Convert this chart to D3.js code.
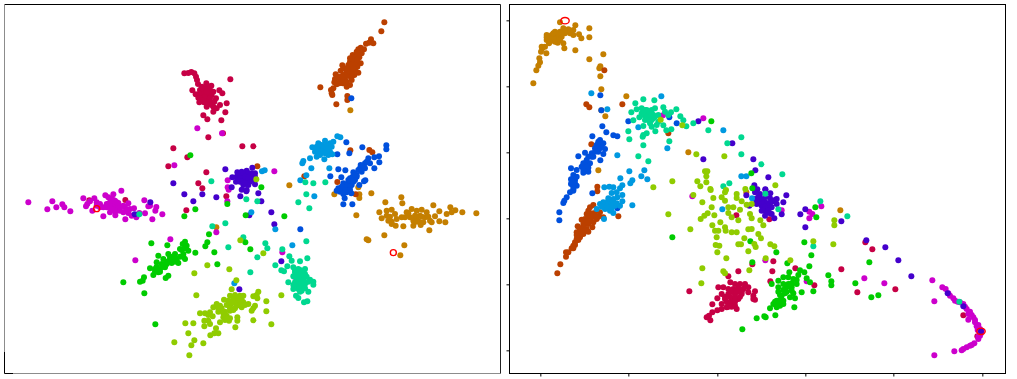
<!DOCTYPE html>
<html>
<head>
<meta charset="utf-8">
<script src="https://cdn.jsdelivr.net/npm/d3@7"></script>
<style>
  html, body { margin: 0; padding: 0; background: #fff; }
  svg { display: block; }
</style>
</head>
<body>
<svg id="canvas"></svg>
<script>
//--values, in 3x crop units of each panel
const leftOrange = [[1051,331],[868,556],[1075,562],[1003,583],[1078,583],[1078,594],[1114,580],[1204,592],[1207,610],[1156,607],[1069,646],[649,682],[1300,616],[1351,622],[1366,631],[1387,637],[1429,640],[1355,637],[1340,642],[1318,634],[1305,649],[1318,664],[1336,667],[1288,691],[1295,667],[1138,637],[1175,629],[1160,632],[1145,655],[1160,647],[1185,642],[1165,662],[1190,657],[1175,672],[1187,677],[1210,679],[1220,637],[1235,627],[1250,632],[1265,629],[1280,637],[1215,652],[1230,652],[1245,647],[1260,647],[1275,652],[1240,662],[1255,664],[1270,667],[1290,662],[1240,677],[1262,675],[1153,706],[1100,718],[1105,721],[1213,736],[1201,766],[1205,652],[1225,640],[1250,650],[1265,650],[1285,650],[1250,665],[1170,650],[1175,665]];
const leftRust = [[1153,67],[1144,94],[1113,118],[1120,130],[1098,131],[1107,128],[1082,143],[1092,148],[1075,148],[1085,160],[1058,165],[1070,168],[1078,172],[1062,178],[1050,185],[1070,185],[1082,190],[1060,195],[1045,195],[1027,196],[1072,200],[1030,205],[1050,205],[1065,210],[1022,212],[1040,215],[1055,218],[1075,218],[1007,223],[1030,225],[1047,228],[1063,225],[1005,237],[1020,240],[1035,238],[1055,240],[1003,247],[1018,250],[1038,252],[1050,255],[1010,253],[1040,260],[961,262],[1000,265],[993,270],[995,280],[997,285],[1042,288],[1042,300],[1009,313],[1051,451],[1108,450],[1117,457],[913,529],[1012,546],[772,499],[1067,583],[1060,180],[1072,180],[1055,195],[1065,195],[1040,205],[1060,205],[1035,225],[1055,228],[1025,230],[1040,245],[1028,250],[1015,230],[1080,160],[1070,155],[1050,175]];
const leftCrimson = [[553,220],[565,219],[574,216],[583,220],[588,230],[591,240],[594,252],[691,238],[619,250],[634,257],[606,260],[620,262],[577,271],[600,270],[614,272],[630,270],[658,271],[667,280],[640,275],[587,283],[605,283],[620,285],[635,285],[595,293],[610,295],[625,297],[648,295],[598,307],[612,307],[630,307],[643,305],[680,310],[660,315],[620,320],[640,320],[650,325],[640,335],[676,337],[610,346],[622,358],[664,361],[625,412],[669,400],[727,439],[760,439],[520,445],[562,472],[505,499],[619,517],[595,550],[607,565],[268,601],[376,600],[559,631],[679,589],[600,280],[612,280],[628,275],[600,295],[615,290],[630,295],[605,265],[620,275],[618,305],[635,315],[625,310],[610,300]];
const leftMagenta = [[592,385],[666,400],[523,496],[823,514],[683,541],[683,562],[364,572],[85,607],[142,628],[157,604],[169,622],[187,613],[193,622],[211,634],[250,595],[283,595],[270,604],[262,612],[258,619],[277,632],[290,607],[300,612],[316,586],[340,583],[325,592],[335,597],[345,602],[355,609],[320,612],[310,622],[330,622],[345,622],[360,622],[375,622],[385,610],[390,627],[402,625],[310,649],[346,646],[376,658],[330,637],[350,632],[370,637],[385,639],[395,647],[409,652],[418,639],[435,640],[433,601],[445,619],[450,617],[466,632],[469,621],[487,643],[457,658],[511,718],[406,781],[649,697],[686,569],[682,604],[847,757],[883,830],[325,612],[335,612],[345,612],[355,617],[335,627],[345,632],[360,632],[300,622],[320,622],[370,617],[380,632],[290,617],[340,600],[330,607],[350,607]];
const leftPurple = [[676,508],[757,503],[697,532],[520,550],[712,517],[725,515],[740,512],[755,520],[765,520],[710,530],[725,530],[740,525],[755,530],[765,530],[708,545],[720,545],[735,540],[750,545],[765,553],[730,555],[745,555],[695,562],[740,570],[553,583],[580,604],[607,583],[649,592],[721,589],[725,569],[739,574],[775,580],[784,604],[748,646],[814,637],[823,673],[718,868],[844,784],[451,607],[404,643],[715,525],[730,520],[745,520],[760,525],[720,535],[735,530],[750,535],[725,545],[745,540],[760,540],[735,550],[715,540],[745,532]];
const leftBlue = [[1054,295],[1159,436],[1159,448],[1087,442],[1039,427],[1048,460],[1012,463],[1137,469],[1123,472],[1138,487],[1123,505],[1105,475],[1095,490],[1110,490],[1082,495],[1095,505],[1075,510],[1085,515],[1060,517],[1036,511],[1015,508],[1070,525],[1058,530],[1024,532],[991,529],[1050,535],[1065,540],[1045,548],[1030,550],[1055,555],[1040,560],[1096,541],[1092,544],[1078,555],[1015,565],[1030,565],[1045,568],[1010,572],[1025,572],[1040,577],[1030,582],[1054,580],[1034,595],[1030,613],[1057,613],[901,688],[1060,535],[1045,540],[1035,555],[1050,560],[1025,560],[1070,530],[1080,505],[1090,500],[1100,485],[1085,505],[1060,545],[1035,570],[1020,575],[1050,570],[1065,525]];
const leftSky = [[1012,409],[1021,412],[975,422],[955,430],[990,430],[1000,425],[937,442],[950,440],[965,435],[980,435],[995,440],[945,455],[960,450],[975,450],[990,455],[930,475],[950,470],[960,465],[973,478],[985,465],[997,463],[910,483],[907,490],[934,505],[988,505],[786,514],[794,511],[919,526],[901,541],[943,589],[754,637],[826,688],[877,736],[703,850],[960,440],[970,445],[980,445],[950,445],[965,455],[975,460],[985,445],[955,460]];
const leftTeal = [[634,544],[916,547],[940,550],[976,547],[919,583],[895,607],[928,625],[739,598],[772,604],[637,679],[676,670],[730,712],[685,742],[796,730],[802,745],[772,772],[751,817],[847,748],[919,724],[922,775],[868,769],[875,782],[900,784],[826,796],[862,799],[844,811],[852,814],[880,802],[895,807],[915,807],[885,817],[900,817],[915,822],[880,829],[895,832],[910,835],[930,839],[940,845],[940,854],[865,847],[885,847],[900,852],[915,852],[880,867],[895,867],[905,872],[925,875],[888,887],[895,894],[912,907],[922,904],[418,643],[885,810],[900,810],[910,815],[895,825],[905,825],[890,835],[900,840],[910,845],[890,855],[905,860],[895,845],[920,830],[880,855],[915,865],[925,845],[900,875]];
const leftGreen = [[571,466],[784,562],[586,628],[553,649],[682,612],[737,646],[853,649],[627,703],[622,727],[616,739],[736,727],[751,748],[643,757],[586,758],[652,793],[454,730],[502,736],[555,725],[548,732],[560,737],[540,747],[565,752],[475,767],[505,762],[525,762],[550,762],[490,777],[510,777],[530,777],[555,777],[470,787],[485,792],[500,792],[515,789],[535,789],[450,805],[465,807],[480,807],[495,802],[460,825],[475,817],[505,827],[497,834],[432,832],[428,842],[420,845],[370,847],[433,880],[466,973],[520,770],[540,770],[550,770],[500,785],[520,785],[490,800],[470,800],[480,815],[465,815],[510,770],[530,785],[545,750],[555,745]];
const leftLime = [[769,538],[721,721],[790,760],[622,796],[688,808],[583,820],[709,841],[695,868],[589,886],[844,886],[775,875],[770,885],[760,889],[772,895],[690,887],[705,885],[720,887],[730,887],[685,902],[700,902],[715,902],[730,907],[745,912],[650,912],[640,922],[660,917],[672,899],[690,917],[710,917],[725,922],[765,917],[760,925],[755,932],[799,904],[799,934],[600,940],[615,940],[630,937],[638,949],[655,935],[675,935],[690,932],[670,952],[680,947],[712,952],[712,962],[613,962],[625,962],[630,972],[660,967],[675,960],[687,962],[760,961],[814,973],[556,970],[580,970],[613,979],[706,982],[648,985],[631,1006],[643,1000],[655,1000],[565,1000],[583,1021],[523,1027],[610,1030],[574,1036],[568,1066],[700,895],[715,895],[725,900],[695,910],[710,910],[720,915],[735,915],[680,915],[665,925],[655,925],[670,940],[680,955],[690,955],[625,945],[705,925],[690,925],[700,930]];
const leftRing = [[1180,758],[290,626]];

const rightOrange = [[165,67],[253,85],[211,76],[253,112],[229,115],[222,103],[205,90],[190,88],[175,85],[205,105],[195,100],[180,100],[165,95],[150,95],[140,105],[125,105],[155,110],[170,110],[125,120],[140,120],[155,125],[132,130],[175,130],[178,145],[158,128],[112,145],[124,160],[108,155],[103,175],[105,187],[100,197],[94,211],[85,250],[211,151],[253,178],[295,163],[286,199],[283,205],[286,229],[289,268],[364,289],[289,331],[301,349],[550,457],[280,511],[724,577],[1006,631],[140,110],[150,105],[160,100],[145,115],[130,115],[135,125],[150,125],[165,120],[180,92],[195,92],[125,112],[145,100],[170,100],[110,140],[120,140]];
const rightRust = [[298,211],[244,313],[253,322],[352,313],[490,400],[259,433],[277,560],[265,615],[255,622],[250,632],[245,642],[275,632],[285,637],[260,652],[240,657],[230,659],[295,652],[275,657],[265,667],[250,672],[235,672],[218,679],[262,682],[245,687],[225,692],[215,697],[235,702],[250,695],[225,712],[215,717],[210,727],[205,737],[200,745],[183,757],[190,757],[183,770],[166,793],[157,820],[340,649],[277,574],[255,640],[265,640],[250,650],[260,650],[240,665],[250,665],[235,680],[225,685],[240,690],[225,705],[220,720],[215,705],[210,735],[205,745],[270,645],[280,650],[230,700]];
const rightCrimson = [[694,646],[793,658],[1081,727],[1102,748],[805,784],[742,793],[802,814],[871,805],[700,814],[670,829],[1009,808],[796,844],[1057,877],[1171,868],[928,856],[553,874],[676,847],[640,862],[655,862],[690,852],[705,852],[720,852],[730,862],[670,867],[685,867],[700,867],[715,867],[750,874],[650,882],[670,882],[690,882],[710,882],[730,877],[745,887],[637,895],[660,897],[680,897],[700,897],[745,897],[750,899],[622,913],[650,912],[670,912],[690,917],[665,922],[650,927],[637,931],[695,927],[622,937],[605,952],[612,947],[616,961],[1375,946],[1417,1009],[680,875],[695,875],[710,875],[660,890],[675,890],[690,890],[705,890],[665,905],[680,905],[690,905],[720,860],[670,920],[680,920],[700,860]];
const rightMagenta = [[474,346],[595,355],[562,589],[781,781],[949,619],[913,635],[922,642],[913,655],[830,631],[905,844],[1078,835],[1138,850],[1282,841],[1288,904],[1312,862],[1322,867],[1335,887],[1350,902],[1365,907],[1375,912],[1385,927],[1390,942],[1405,952],[1390,959],[1410,967],[1415,979],[1425,987],[1430,992],[1425,1007],[1420,1017],[1408,1030],[1395,1037],[1385,1042],[1375,1047],[1370,1051],[1348,1054],[1288,1066],[1345,895],[1358,905],[1380,920],[1395,935],[1400,945],[1410,960],[1420,975],[1418,990],[1428,1000],[1420,1010],[1330,880],[1400,1035]];
const rightPurple = [[580,364],[682,430],[595,478],[745,478],[751,511],[790,532],[748,556],[757,568],[781,568],[724,586],[781,569],[796,580],[844,586],[835,607],[750,577],[765,582],[780,592],[795,595],[815,597],[750,597],[765,602],[780,607],[795,609],[755,612],[770,617],[785,622],[800,622],[815,612],[770,632],[785,637],[800,642],[830,643],[780,647],[808,655],[901,628],[886,643],[901,682],[1009,664],[1084,721],[1141,742],[1180,781],[1219,829],[1328,880],[1375,919],[1428,994],[733,617],[760,590],[775,600],[785,610],[770,610],[790,615],[760,610],[780,620],[775,630],[790,630],[800,605],[765,595],[755,600],[810,600],[795,640]];
const rightBlue = [[286,286],[289,331],[370,364],[292,379],[493,352],[515,370],[304,397],[325,406],[337,409],[262,409],[285,420],[280,430],[295,430],[270,445],[285,445],[300,447],[240,458],[260,460],[295,462],[220,469],[250,470],[265,470],[286,481],[240,490],[255,490],[230,500],[250,503],[198,505],[215,510],[235,518],[250,515],[205,525],[198,538],[210,540],[198,552],[215,557],[205,568],[205,572],[195,577],[185,592],[178,602],[175,609],[163,637],[163,661],[262,580],[337,625],[270,455],[280,455],[275,435],[290,435],[260,470],[245,480],[235,490],[245,500],[235,510],[205,535],[210,550],[205,560],[200,545],[215,530],[280,425]];
const rightSky = [[259,280],[307,328],[469,289],[400,382],[655,391],[487,445],[337,466],[373,514],[418,511],[409,529],[427,538],[346,535],[382,541],[376,550],[709,529],[724,529],[298,562],[313,560],[325,562],[345,565],[352,556],[320,579],[335,577],[352,585],[337,592],[352,604],[382,616],[295,607],[310,602],[325,597],[285,612],[300,617],[315,617],[330,617],[345,617],[275,627],[300,627],[315,632],[325,639],[297,657],[652,628],[741,595],[300,610],[310,610],[320,610],[305,625],[320,625],[335,610],[290,620],[310,595],[325,605]];
const rightTeal = [[415,298],[448,301],[391,310],[379,337],[395,328],[410,325],[425,330],[440,330],[450,325],[475,322],[514,328],[480,335],[498,337],[490,345],[526,349],[535,361],[544,379],[565,370],[385,361],[403,352],[415,345],[430,345],[445,345],[460,345],[420,360],[440,360],[460,365],[415,378],[440,380],[475,376],[499,388],[484,391],[451,394],[610,391],[370,394],[415,405],[425,400],[373,418],[413,410],[493,424],[415,436],[667,430],[709,412],[709,463],[769,493],[400,469],[430,484],[832,523],[655,559],[673,550],[781,581],[820,628],[946,604],[1027,649],[925,739],[1363,905],[420,340],[430,335],[440,340],[425,350],[435,352],[445,355],[430,360],[450,350],[420,330],[410,340],[435,370],[455,375]];
const rightGreen = [[619,364],[739,520],[742,565],[502,712],[934,652],[931,622],[898,727],[919,766],[814,757],[736,724],[742,787],[847,790],[913,799],[898,817],[853,817],[885,811],[880,825],[970,826],[979,844],[979,856],[1051,850],[1093,787],[1120,886],[1099,892],[835,832],[850,832],[865,837],[905,835],[915,847],[820,842],[835,852],[850,852],[875,852],[800,852],[820,862],[840,867],[860,862],[890,877],[925,874],[860,872],[830,887],[855,892],[870,895],[815,902],[835,902],[805,912],[825,917],[868,922],[795,925],[815,922],[835,912],[755,955],[778,949],[782,952],[811,946],[712,988],[840,880],[825,900],[815,915],[810,905],[825,885],[845,875],[860,850],[875,840],[835,870],[820,875],[845,860],[820,910],[830,907],[865,880]];
const rightLime = [[467,359],[532,376],[658,469],[574,463],[600,514],[607,514],[604,529],[502,544],[577,544],[604,547],[586,559],[616,567],[445,562],[811,556],[721,567],[663,570],[565,585],[617,570],[660,577],[695,582],[650,592],[625,594],[695,594],[660,602],[710,604],[592,607],[740,612],[725,614],[620,622],[670,622],[685,622],[705,629],[735,642],[670,639],[608,640],[598,647],[587,657],[628,646],[490,643],[680,652],[700,661],[740,655],[766,661],[646,667],[622,676],[775,676],[556,688],[660,682],[630,692],[640,692],[680,697],[695,697],[730,688],[740,687],[662,692],[760,702],[635,712],[768,715],[718,715],[632,735],[643,737],[700,733],[708,733],[748,732],[752,741],[796,733],[808,739],[730,754],[637,757],[664,775],[782,775],[856,781],[592,805],[733,811],[655,814],[660,820],[589,850],[988,661],[988,676],[985,733],[925,724]];
const rightRing = [[180,62],[1428,994]];

const rightTicksX = [106,370,637,901,1165,1432];
const rightTicksY = [61,259,457,655,853,1051];
//--

//--page and panel dimensions
let width = 1017;
let height = 379;
let panelTop = 4.5;
let panelBottom = 373.5;

let canvas = d3.select("#canvas")
canvas.attr("width", width)
canvas.attr("height", height)

let colors = {
    orange: "#c47f00",
    rust: "#bb4000",
    crimson: "#c60045",
    magenta: "#cc00cc",
    purple: "#4400cc",
    blue: "#0050dd",
    sky: "#0099e0",
    teal: "#00d890",
    green: "#00cc00",
    lime: "#90cc00"
}
//--

//--the scales share the crop units, only the page offset differs
let makeX = (offset) => d3.scaleLinear().domain([13.5, 1501.5]).range([offset + 4.5, offset + 500.5])
let makeY = () => d3.scaleLinear().domain([13.5, 1120.5]).range([panelTop, panelBottom])

let drawPoints = (panel, x, y, groups) => {
    groups.forEach(group => {
        panel.append("g")
             .selectAll("circle")
             .data(group.points)
             .enter()
             .append("circle")
             .attr("cx", d => x(d[0]))
             .attr("cy", d => y(d[1]))
             .attr("r", 3)
             .style("fill", colors[group.name])
    })
}

let drawRings = (panel, x, y, points, rx, ry) => {
    panel.append("g")
         .selectAll("ellipse")
         .data(points)
         .enter()
         .append("ellipse")
         .attr("cx", d => x(d[0]))
         .attr("cy", d => y(d[1]))
         .attr("rx", rx)
         .attr("ry", ry)
         .style("fill", "none")
         .style("stroke", "#ff0000")
         .style("stroke-width", 1.4)
}
//--

//--left panel
let leftX = makeX(0)
let leftY = makeY()
let left = canvas.append("g")

drawPoints(left, leftX, leftY, [
    {name: "orange", points: leftOrange},
    {name: "rust", points: leftRust},
    {name: "crimson", points: leftCrimson},
    {name: "magenta", points: leftMagenta},
    {name: "purple", points: leftPurple},
    {name: "blue", points: leftBlue},
    {name: "sky", points: leftSky},
    {name: "teal", points: leftTeal},
    {name: "green", points: leftGreen},
    {name: "lime", points: leftLime}
])
drawRings(left, leftX, leftY, leftRing, 3, 3)

// the frame of this panel is grey except top, right and the bottom-left corner
let frameLine = (x1, y1, x2, y2, stroke) => {
    canvas.append("line")
          .attr("x1", x1).attr("y1", y1)
          .attr("x2", x2).attr("y2", y2)
          .style("stroke", stroke)
          .style("stroke-width", 1)
}
frameLine(4.5, panelTop, 500.5, panelTop, "#000")
frameLine(4.5, panelTop, 4.5, 352, "#8c8c8c")
frameLine(4.5, 352, 4.5, panelBottom, "#000")
frameLine(4.5, panelBottom, 13, panelBottom, "#000")
frameLine(13, panelBottom, 500.5, panelBottom, "#8c8c8c")
frameLine(500.5, panelTop, 500.5, panelBottom, "#222")
//--

//--right panel
let rightX = makeX(505)
let rightY = makeY()
let right = canvas.append("g")

drawPoints(right, rightX, rightY, [
    {name: "orange", points: rightOrange},
    {name: "rust", points: rightRust},
    {name: "crimson", points: rightCrimson},
    {name: "magenta", points: rightMagenta},
    {name: "purple", points: rightPurple},
    {name: "blue", points: rightBlue},
    {name: "sky", points: rightSky},
    {name: "teal", points: rightTeal},
    {name: "green", points: rightGreen},
    {name: "lime", points: rightLime}
])
drawRings(right, rightX, rightY, rightRing, 4.2, 3.2)

canvas.append("rect")
      .attr("x", 509.5)
      .attr("y", panelTop)
      .attr("width", 496)
      .attr("height", panelBottom - panelTop)
      .style("fill", "none")
      .style("stroke", "#000")
      .style("stroke-width", 1)

let axisBottom = d3.axisBottom(rightX).tickValues(rightTicksX).tickFormat("").tickSize(3)
let axisLeft = d3.axisLeft(rightY).tickValues(rightTicksY).tickFormat("").tickSize(3)

canvas.append("g")
      .attr("transform", "translate(0," + panelBottom + ")")
      .call(axisBottom)
      .call(g => g.select(".domain").remove())

canvas.append("g")
      .attr("transform", "translate(509.5,0)")
      .call(axisLeft)
      .call(g => g.select(".domain").remove())
//--
</script>
</body>
</html>
